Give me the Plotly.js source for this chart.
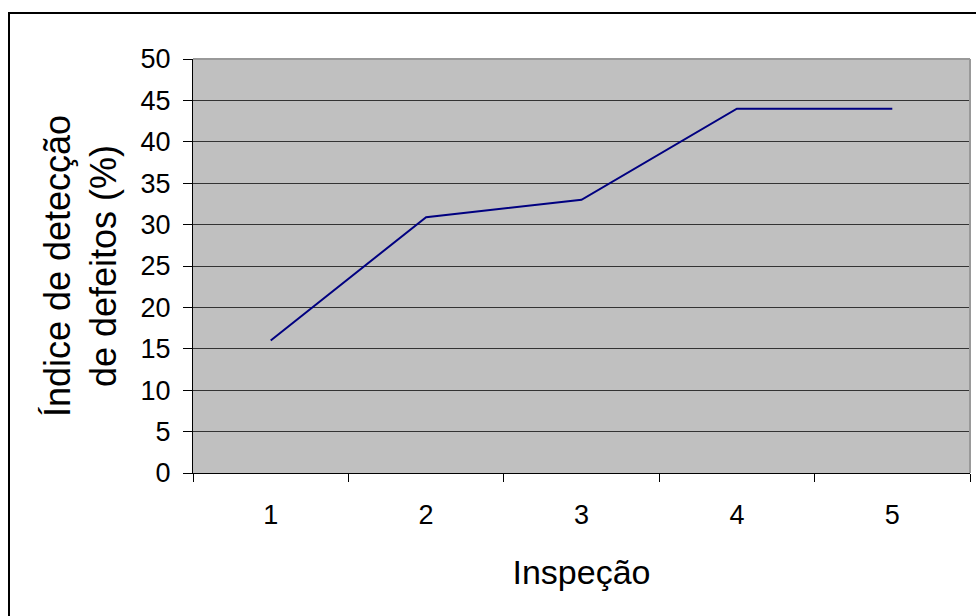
<!DOCTYPE html>
<html><head><meta charset="utf-8">
<script src="https://cdn.plot.ly/plotly-3.0.1.min.js"></script>
<style>
html,body{margin:0;padding:0;background:#fff;overflow:hidden;}
#frame{position:absolute;left:8px;top:12px;width:990px;height:640px;border:2px solid #000;box-sizing:border-box;pointer-events:none;z-index:10;}
#chart{position:absolute;left:0;top:0;width:976px;height:616px;}
</style></head>
<body>
<div id="chart"></div>
<div id="frame"></div>
<script>
const categories = ["1", "2", "3", "4", "5"];
const detectionRate = [16, 30.9, 33, 44, 44];
const yTicks = [0, 5, 10, 15, 20, 25, 30, 35, 40, 45, 50];

const trace = {
  x: categories,
  y: detectionRate,
  type: "scatter",
  mode: "lines",
  line: {color: "#000080", width: 2},
  hoverinfo: "skip"
};

const layout = {
  width: 976, height: 616,
  margin: {l: 193, r: 6, t: 59, b: 143},
  paper_bgcolor: "#ffffff",
  plot_bgcolor: "#c0c0c0",
  font: {family: "Liberation Sans, Arial, sans-serif", color: "#000"},
  showlegend: false,
  xaxis: {
    type: "category",
    range: [-0.5, 4.5],
    tickson: "boundaries",
    ticks: "outside", ticklen: 8, tickcolor: "#000", tickwidth: 1,
    showgrid: false, zeroline: false,
    showline: true, linecolor: "#000", linewidth: 1,
    tickfont: {size: 27},
    ticklabelstandoff: 18,
    title: {text: "Inspeção", font: {size: 34}, standoff: 30}
  },
  yaxis: {
    range: [0, 50],
    tickvals: yTicks,
    ticktext: yTicks.map(String),
    ticks: "outside", ticklen: 9, tickcolor: "#000", tickwidth: 1,
    showgrid: true, gridcolor: "#333333", gridwidth: 1,
    zeroline: false,
    showline: true, linecolor: "#000", linewidth: 1,
    tickfont: {size: 27},
    ticklabelstandoff: 7,
    title: {text: "Índice de detecção<br>de defeitos (%)", font: {size: 36}, standoff: 12}
  },
  shapes: [
    {type: "line", xref: "paper", yref: "paper", x0: 0, x1: 1, y0: 1, y1: 1, line: {color: "#999999", width: 2}},
    {type: "line", xref: "paper", yref: "paper", x0: 1, x1: 1, y0: 0, y1: 1, line: {color: "#999999", width: 2}}
  ]
};

Plotly.newPlot("chart", [trace], layout, {displayModeBar: false, staticPlot: true});
</script>
</body></html>
